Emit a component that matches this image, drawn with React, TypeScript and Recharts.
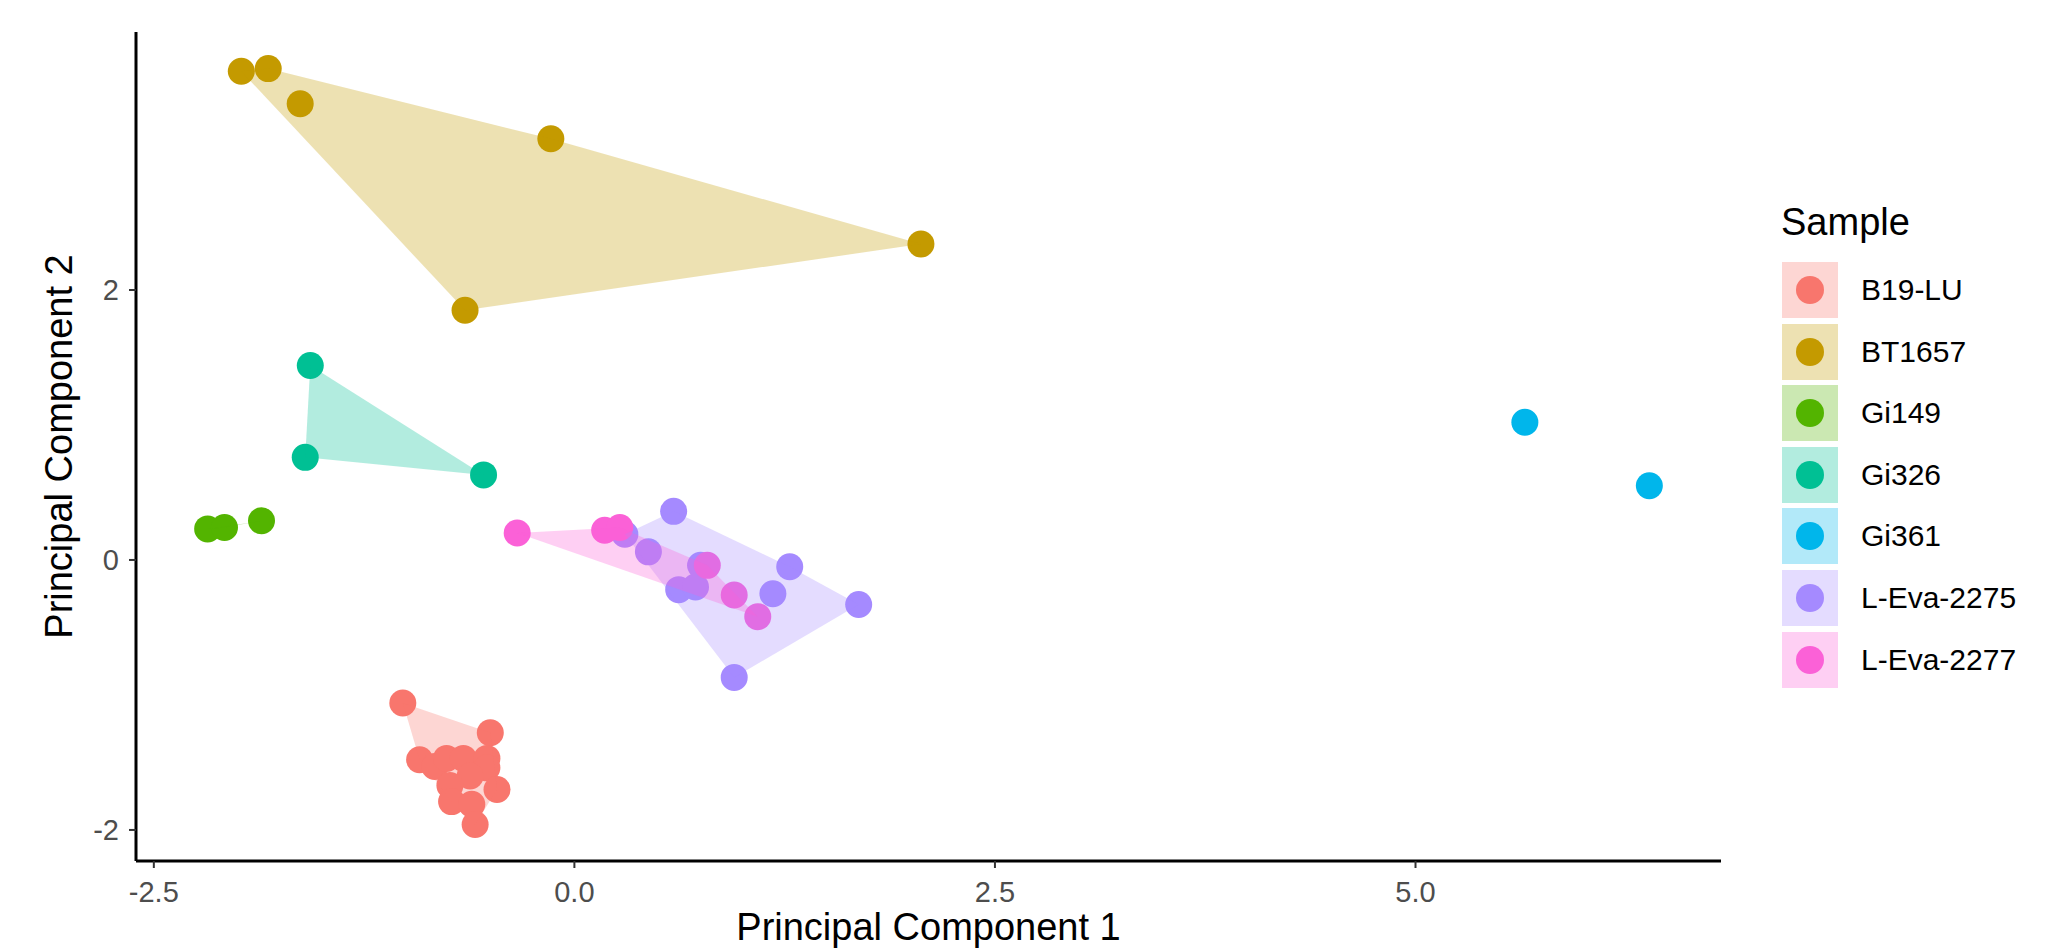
import React from "react";
import { ScatterChart, Scatter, XAxis, YAxis, Legend } from "recharts";

type Pt = { x: number; y: number };

// PCA scores, one array per sample
const b19lu: Pt[] = [
  { x: -1.02, y: -1.06 },
  { x: -0.5, y: -1.28 },
  { x: -0.92, y: -1.48 },
  { x: -0.83, y: -1.53 },
  { x: -0.76, y: -1.47 },
  { x: -0.66, y: -1.47 },
  { x: -0.52, y: -1.47 },
  { x: -0.52, y: -1.54 },
  { x: -0.62, y: -1.6 },
  { x: -0.74, y: -1.67 },
  { x: -0.46, y: -1.7 },
  { x: -0.73, y: -1.79 },
  { x: -0.61, y: -1.81 },
  { x: -0.59, y: -1.96 },
];
const bt1657: Pt[] = [
  { x: -1.98, y: 3.62 },
  { x: -1.82, y: 3.64 },
  { x: -1.63, y: 3.38 },
  { x: -0.14, y: 3.12 },
  { x: -0.65, y: 1.85 },
  { x: 2.06, y: 2.34 },
];
const gi149: Pt[] = [
  { x: -2.18, y: 0.23 },
  { x: -2.08, y: 0.24 },
  { x: -1.86, y: 0.29 },
];
const gi326: Pt[] = [
  { x: -1.57, y: 1.44 },
  { x: -1.6, y: 0.76 },
  { x: -0.54, y: 0.63 },
];
const gi361: Pt[] = [
  { x: 5.65, y: 1.02 },
  { x: 6.39, y: 0.55 },
];
const leva2275: Pt[] = [
  { x: 0.3, y: 0.19 },
  { x: 0.59, y: 0.36 },
  { x: 0.44, y: 0.06 },
  { x: 0.75, y: -0.04 },
  { x: 0.62, y: -0.22 },
  { x: 0.72, y: -0.2 },
  { x: 1.28, y: -0.05 },
  { x: 1.18, y: -0.25 },
  { x: 1.69, y: -0.33 },
  { x: 0.95, y: -0.87 },
];
const leva2277: Pt[] = [
  { x: -0.34, y: 0.2 },
  { x: 0.18, y: 0.22 },
  { x: 0.27, y: 0.24 },
  { x: 0.79, y: -0.04 },
  { x: 0.95, y: -0.26 },
  { x: 1.09, y: -0.42 },
];

const sampleNames = ["B19-LU", "BT1657", "Gi149", "Gi326", "Gi361", "L-Eva-2275", "L-Eva-2277"];
const samplePoints = [b19lu, bt1657, gi149, gi326, gi361, leva2275, leva2277];
const sampleColors = ["#F8766D", "#C49A00", "#53B400", "#00C094", "#00B6EB", "#A58AFF", "#FB61D7"];

const xTicks = [-2.5, 0, 2.5, 5];
const yTicks = [-2, 0, 2];

const FONT = '"Liberation Sans", Arial, Helvetica, sans-serif';

// monotone chain convex hull
function convexHull(pts: Pt[]): Pt[] {
  const p = [...pts].sort((a, b) => a.x - b.x || a.y - b.y);
  if (p.length < 3) return p;
  const cross = (o: Pt, a: Pt, b: Pt) => (a.x - o.x) * (b.y - o.y) - (a.y - o.y) * (b.x - o.x);
  const lower: Pt[] = [];
  for (const q of p) {
    while (lower.length >= 2 && cross(lower[lower.length - 2], lower[lower.length - 1], q) <= 0) lower.pop();
    lower.push(q);
  }
  const upper: Pt[] = [];
  for (let i = p.length - 1; i >= 0; i--) {
    const q = p[i];
    while (upper.length >= 2 && cross(upper[upper.length - 2], upper[upper.length - 1], q) <= 0) upper.pop();
    upper.push(q);
  }
  lower.pop();
  upper.pop();
  return lower.concat(upper);
}

const hullPolygon = (color: string) => (props: any) => {
  const pts = (props.points || []).filter((q: any) => q.x != null && q.y != null);
  if (pts.length < 2) return <g />;
  return (
    <polygon
      points={pts.map((q: any) => `${q.x},${q.y}`).join(" ")}
      fill={color}
      fillOpacity={0.3}
      stroke="none"
    />
  );
};

const dot = (color: string) => (props: any) => (
  <circle cx={props.cx} cy={props.cy} r={13.5} fill={color} />
);

function SampleLegend() {
  return (
    <div style={{ fontFamily: FONT, color: "#000" }}>
      <div style={{ fontSize: 38, lineHeight: "38px", height: 38, marginLeft: -1, marginBottom: 21 }}>Sample</div>
      {sampleNames.map((name, i) => (
        <div key={name} style={{ display: "flex", alignItems: "center", height: 56, marginBottom: 5.6 }}>
          <div style={{ position: "relative", width: 56, height: 56 }}>
            <div style={{ position: "absolute", inset: 0, background: sampleColors[i], opacity: 0.3 }} />
            <div
              style={{
                position: "absolute",
                left: 14,
                top: 14,
                width: 28,
                height: 28,
                borderRadius: "50%",
                background: sampleColors[i],
              }}
            />
          </div>
          <span style={{ fontSize: 30, marginLeft: 23, whiteSpace: "nowrap" }}>{name}</span>
        </div>
      ))}
    </div>
  );
}

export default function App() {
  return (
    <div style={{ position: "absolute", left: 0, top: 0, width: 2059, height: 948, background: "#fff" }}>
      <ScatterChart width={2059} height={948} margin={{ top: 32, right: 338, bottom: 0, left: 0 }}>
        <XAxis
          type="number"
          dataKey="x"
          domain={[-2.606, 6.816]}
          ticks={xTicks}
          allowDataOverflow
          tickFormatter={(v: number) => v.toFixed(1)}
          height={87}
          axisLine={{ stroke: "#000", strokeWidth: 3 }}
          tickLine={{ stroke: "#333", strokeWidth: 2 }}
          tickSize={7}
          tickMargin={13}
          tick={{ fill: "#4D4D4D", fontSize: 29, fontFamily: FONT }}
          label={{
            content: (p: any) => {
              const vb = p.viewBox || { x: 136, y: 861, width: 1585, height: 87 };
              return (
                <text x={vb.x + vb.width / 2} y={vb.y + 79} textAnchor="middle" fontSize={38} fontFamily={FONT} fill="#000">
                  Principal Component 1
                </text>
              );
            },
          }}
        />
        <YAxis
          type="number"
          dataKey="y"
          domain={[-2.23, 3.911]}
          ticks={yTicks}
          allowDataOverflow
          width={136}
          axisLine={{ stroke: "#000", strokeWidth: 3 }}
          tickLine={{ stroke: "#333", strokeWidth: 2 }}
          tickSize={7}
          tickMargin={10}
          tick={{ fill: "#4D4D4D", fontSize: 29, fontFamily: FONT }}
          label={{
            content: (p: any) => {
              const vb = p.viewBox || { x: 0, y: 32, width: 136, height: 829 };
              const cx = vb.x + 72;
              const cy = vb.y + vb.height / 2;
              return (
                <text
                  x={cx}
                  y={cy}
                  transform={`rotate(-90, ${cx}, ${cy})`}
                  textAnchor="middle"
                  fontSize={38}
                  fontFamily={FONT}
                  fill="#000"
                >
                  Principal Component 2
                </text>
              );
            },
          }}
        />
        {samplePoints.map((pts, i) => (
          <Scatter
            key={"pts-" + sampleNames[i]}
            name={sampleNames[i]}
            data={pts}
            fill={sampleColors[i]}
            shape={dot(sampleColors[i])}
            isAnimationActive={false}
          />
        ))}
        {samplePoints.map((pts, i) => (
          <Scatter
            key={"hull-" + sampleNames[i]}
            name={sampleNames[i] + " hull"}
            data={convexHull(pts)}
            fill={sampleColors[i]}
            line={hullPolygon(sampleColors[i])}
            lineType="joint"
            shape={() => <g />}
            legendType="none"
            isAnimationActive={false}
          />
        ))}
        <Legend
          layout="vertical"
          align="center"
          verticalAlign="middle"
          wrapperStyle={{ left: 1782, top: 203, width: 260, height: "auto" }}
          content={() => <SampleLegend />}
        />
      </ScatterChart>
    </div>
  );
}
